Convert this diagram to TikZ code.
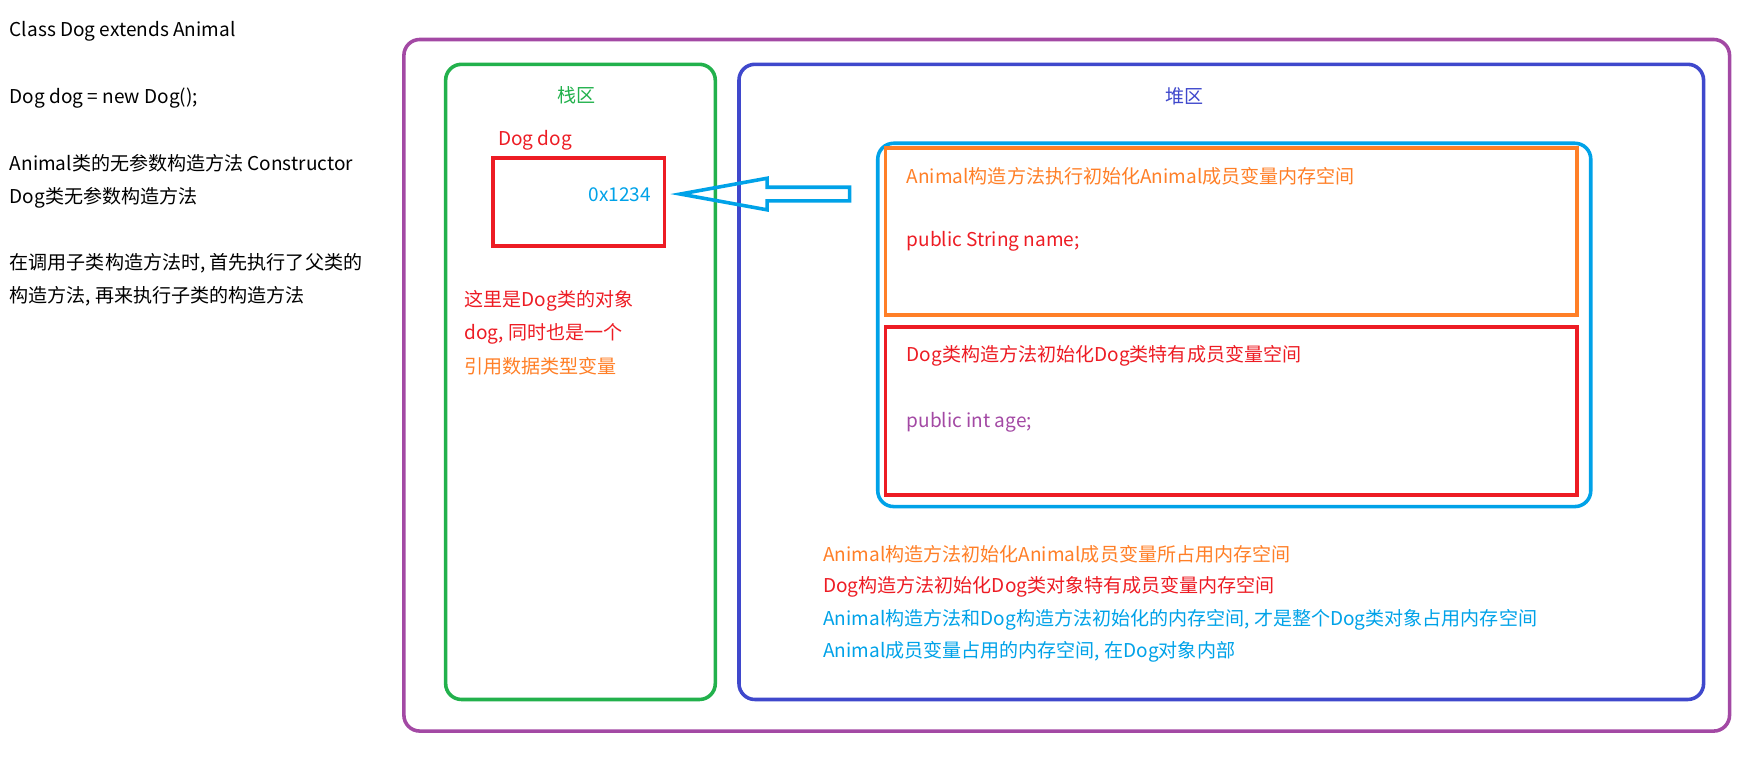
\documentclass[tikz,border=0pt]{standalone}
\usepackage{fontspec}
\setmainfont{Noto Sans CJK SC}
\usetikzlibrary{positioning}
\definecolor{cpurple}{HTML}{A349A4}
\definecolor{cgreen}{HTML}{22B14C}
\definecolor{cblue}{HTML}{3F48CC}
\definecolor{ccyan}{HTML}{00A2E8}
\definecolor{corange}{HTML}{FF7F27}
\definecolor{cred}{HTML}{ED1C24}
\tikzset{
  box/.style={line width=0.9pt, rounded corners=4pt},
  txt/.style={anchor=west, inner sep=0pt, font=\fontsize{4.8}{6}\selectfont},
}
\begin{document}
\begin{tikzpicture}[x=0.01cm, y=-0.01cm]
      \useasboundingbox (0,0) rectangle (1560,679);
      %► Frames
      \draw[box, cpurple] (358,35) rectangle (1533,648);
      \draw[box, cgreen]  (395,57) rectangle (634,620);
      \draw[box, cblue]   (655,57) rectangle (1510,620);
      \draw[box, ccyan]   (778,127) rectangle (1410,449);
      \draw[line width=0.9pt, corange] (785,131) rectangle (1398,279);
      \draw[line width=0.9pt, cred]    (785,290) rectangle (1398,439);
      \draw[line width=0.9pt, cred]    (437,140) rectangle (589,218);

      %► Hollow arrow
      \draw[line width=0.9pt, ccyan] (753,166) -- (680,166) -- (680,158) -- (603,172)
            -- (680,186) -- (680,178) -- (753,178) -- cycle;

      %► Left notes
      \node[txt] (l1) at (8,28)  {Class Dog extends Animal};
      \node[txt] (l2) at (8,87)  {Dog dog = new Dog();};
      \node[txt] (l3) at (8,145) {Animal类的无参数构造方法 Constructor};
      \node[txt] (l4) at (8,175) {Dog类无参数构造方法};
      \node[txt] (l5) at (8,233) {在调用子类构造方法时, 首先执行了父类的};
      \node[txt] (l6) at (8,263) {构造方法, 再来执行子类的构造方法};

      %► Stack
      \node[txt, anchor=center, cgreen] (stack) at (511,84) {栈区};
      \node[txt, cred] (var) at (441,124) {Dog dog};
      \node[txt, ccyan] (addr) at (521,173) {0x1234};
      \node[txt, cred]    (s1) at (411,267) {这里是Dog类的对象};
      \node[txt, cred]    (s2) at (411,296) {dog, 同时也是一个};
      \node[txt, corange] (s3) at (411,325) {引用数据类型变量};

      %► Heap
      \node[txt, anchor=center, cblue] (heap) at (1050,85) {堆区};
      \node[txt, corange] (h1) at (803,156) {Animal构造方法执行初始化Animal成员变量内存空间};
      \node[txt, cred]    (h2) at (803,214) {public String name;};
      \node[txt, cred]    (h3) at (803,315) {Dog类构造方法初始化Dog类特有成员变量空间};
      \node[txt, cpurple] (h4) at (803,374) {public int age;};
      \node[txt, corange] (b1) at (729,491) {Animal构造方法初始化Animal成员变量所占用内存空间};
      \node[txt, cred]    (b2) at (729,520) {Dog构造方法初始化Dog类对象特有成员变量内存空间};
      \node[txt, ccyan]   (b3) at (729,549) {Animal构造方法和Dog构造方法初始化的内存空间, 才是整个Dog类对象占用内存空间};
      \node[txt, ccyan]   (b4) at (729,578) {Animal成员变量占用的内存空间, 在Dog对象内部};
\end{tikzpicture}
\end{document}
